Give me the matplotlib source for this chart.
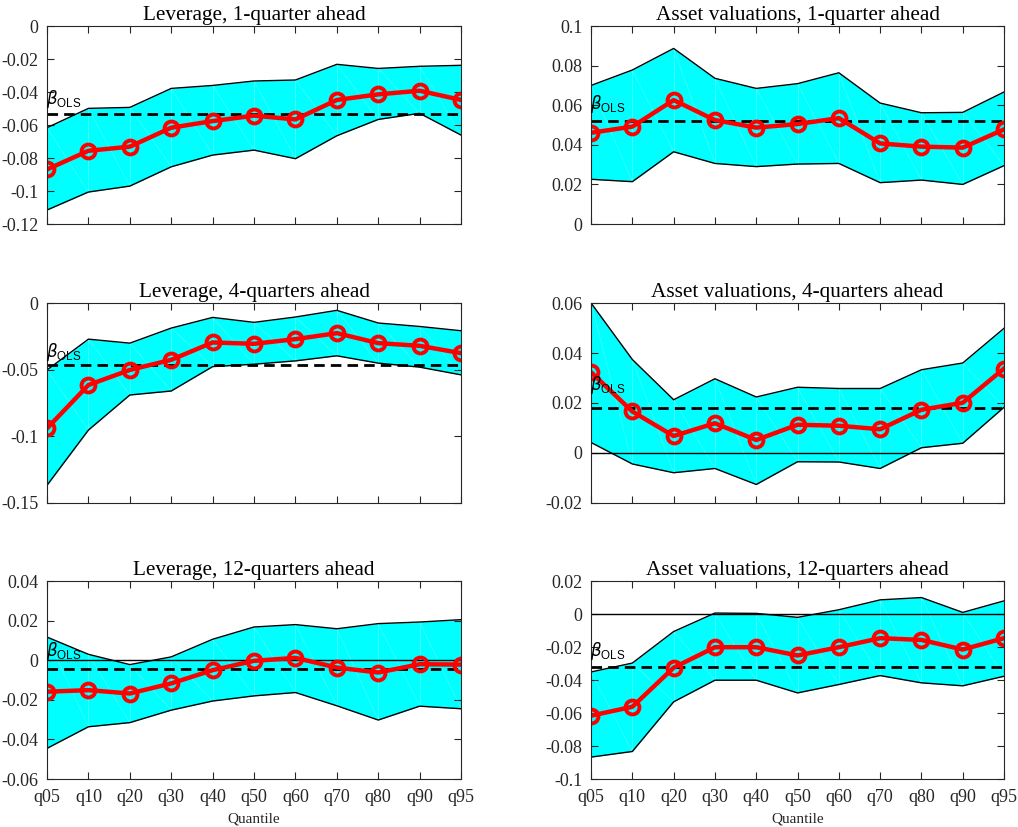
import numpy as np
import matplotlib
matplotlib.use('Agg')
import matplotlib.pyplot as plt

plt.rcParams['font.family'] = ['Liberation Serif', 'DejaVu Serif']
plt.rcParams['mathtext.fontset'] = 'custom'
plt.rcParams['mathtext.rm'] = 'Liberation Sans'
plt.rcParams['mathtext.it'] = 'DejaVu Sans:italic'

quantiles = ['q05', 'q10', 'q20', 'q30', 'q40', 'q50', 'q60', 'q70', 'q80', 'q90', 'q95']

# leverage, 1 quarter ahead
lev1_coef = [-0.0869, -0.0756, -0.0731, -0.0616, -0.0576, -0.0543, -0.0566, -0.0448, -0.0414, -0.0392, -0.0448]
lev1_upper = [-0.0616, -0.0499, -0.0493, -0.0378, -0.0360, -0.0333, -0.0327, -0.0232, -0.0257, -0.0244, -0.0238]
lev1_lower = [-0.1115, -0.1006, -0.0970, -0.0853, -0.0782, -0.0752, -0.0804, -0.0665, -0.0566, -0.0529, -0.0661]
lev1_ols = -0.0533

# asset valuations, 1 quarter ahead
val1_coef = [0.0461, 0.0492, 0.0626, 0.0525, 0.0487, 0.0505, 0.0535, 0.0407, 0.0391, 0.0386, 0.0478]
val1_upper = [0.0700, 0.0778, 0.0887, 0.0736, 0.0685, 0.0709, 0.0764, 0.0611, 0.0562, 0.0564, 0.0667]
val1_lower = [0.0226, 0.0214, 0.0365, 0.0306, 0.0290, 0.0303, 0.0306, 0.0209, 0.0222, 0.0200, 0.0295]
val1_ols = 0.0520

# leverage, 4 quarters ahead
lev4_coef = [-0.0940, -0.0615, -0.0502, -0.0426, -0.0296, -0.0306, -0.0271, -0.0226, -0.0301, -0.0321, -0.0376]
lev4_upper = [-0.0502, -0.0271, -0.0301, -0.0188, -0.0108, -0.0145, -0.0105, -0.0055, -0.0150, -0.0176, -0.0208]
lev4_lower = [-0.1367, -0.0953, -0.0690, -0.0660, -0.0477, -0.0459, -0.0434, -0.0396, -0.0451, -0.0481, -0.0539]
lev4_ols = -0.0464

# asset valuations, 4 quarters ahead
val4_coef = [0.0323, 0.0166, 0.0068, 0.0119, 0.0052, 0.0113, 0.0109, 0.0095, 0.0173, 0.0201, 0.0338]
val4_upper = [0.0600, 0.0374, 0.0213, 0.0297, 0.0224, 0.0263, 0.0258, 0.0258, 0.0333, 0.0360, 0.0499]
val4_lower = [0.0042, -0.0044, -0.0079, -0.0062, -0.0126, -0.0035, -0.0036, -0.0062, 0.0021, 0.0039, 0.0183]
val4_ols = 0.0179

# leverage, 12 quarters ahead
lev12_coef = [-0.0159, -0.0151, -0.0168, -0.0117, -0.0050, -0.0003, 0.0012, -0.0037, -0.0062, -0.0020, -0.0022]
lev12_upper = [0.0117, 0.0030, -0.0022, 0.0017, 0.0106, 0.0168, 0.0180, 0.0159, 0.0185, 0.0193, 0.0205]
lev12_lower = [-0.0445, -0.0336, -0.0315, -0.0252, -0.0206, -0.0180, -0.0163, -0.0230, -0.0302, -0.0232, -0.0245]
lev12_ols = -0.0045

# asset valuations, 12 quarters ahead
val12_coef = [-0.0616, -0.0562, -0.0325, -0.0201, -0.0201, -0.0251, -0.0201, -0.0146, -0.0157, -0.0215, -0.0146]
val12_upper = [-0.0351, -0.0297, -0.0106, 0.0006, 0.0004, -0.0020, 0.0026, 0.0086, 0.0100, 0.0010, 0.0080]
val12_lower = [-0.0867, -0.0833, -0.0532, -0.0401, -0.0401, -0.0478, -0.0427, -0.0373, -0.0417, -0.0435, -0.0377]
val12_ols = -0.0321

# title, coefficients, band, OLS estimate, y-limits, y-ticks, label height, zero line
panels = [
    ('Leverage, 1-quarter ahead', lev1_coef, lev1_upper, lev1_lower, lev1_ols,
     (-0.12, 0), np.arange(-0.12, 0.001, 0.02), -0.0444, False),
    ('Asset valuations, 1-quarter ahead', val1_coef, val1_upper, val1_lower, val1_ols,
     (0, 0.1), np.arange(0, 0.101, 0.02), 0.0606, False),
    ('Leverage, 4-quarters ahead', lev4_coef, lev4_upper, lev4_lower, lev4_ols,
     (-0.15, 0), np.arange(-0.15, 0.001, 0.05), -0.0371, False),
    ('Asset valuations, 4-quarters ahead', val4_coef, val4_upper, val4_lower, val4_ols,
     (-0.02, 0.06), np.arange(-0.02, 0.061, 0.02), 0.0272, True),
    ('Leverage, 12-quarters ahead', lev12_coef, lev12_upper, lev12_lower, lev12_ols,
     (-0.06, 0.04), np.arange(-0.06, 0.041, 0.02), 0.0045, True),
    ('Asset valuations, 12-quarters ahead', val12_coef, val12_upper, val12_lower, val12_ols,
     (-0.1, 0.02), np.arange(-0.1, 0.021, 0.02), -0.0227, True),
]

fig = plt.figure(figsize=(10.18, 8.27), dpi=100)
lefts = [0.0462, 0.5806]
widths = [0.4067, 0.4057]
bottoms = [0.7291, 0.3918, 0.0580]
heights = [0.2394, 0.2418, 0.2394]

x = np.arange(len(quantiles))
for i, (title, coef, upper, lower, ols, ylim, yticks, label_y, zero_line) in enumerate(panels):
    row, col = divmod(i, 2)
    ax = fig.add_axes([lefts[col], bottoms[row], widths[col], heights[row]])

    ax.fill_between(x, lower, upper, color='cyan', linewidth=0)
    # faint seams of the patch triangulation
    for k in range(len(x)):
        ax.plot([x[k], x[k]], [lower[k], upper[k]], color='white', lw=0.5, alpha=0.35)
        if k < len(x) - 1:
            ax.plot([x[k], x[k + 1]], [upper[k], lower[k + 1]], color='white', lw=0.5, alpha=0.25)
    ax.plot(x, upper, color='black', lw=1.0)
    ax.plot(x, lower, color='black', lw=1.0)

    if zero_line:
        ax.axhline(0, color='black', lw=1.0)
    ax.axhline(ols, color='black', lw=2.0, ls=(0, (3.8, 2.2)))
    ax.plot(x, coef, color='red', lw=3.2, marker='o', ms=10, mfc='none', mec='red', mew=2.8)

    ax.text(-0.02, label_y, r'$\beta_{\rm OLS}$', fontsize=12, va='center', ha='left')

    ax.set_xlim(0, len(x) - 1)
    ax.set_ylim(*ylim)
    ax.set_yticks(yticks)
    ax.set_yticklabels(['%g' % round(v, 3) for v in yticks])
    ax.set_xticks(x)
    if row == 2:
        ax.set_xticklabels(quantiles)
        ax.set_xlabel('Quantile', fontsize=11, labelpad=5, color='#262626')
    else:
        ax.set_xticklabels([])
    ax.tick_params(direction='in', top=True, right=True, length=5, width=0.8,
                   labelsize=13, color='#262626', labelcolor='#262626')
    ax.tick_params(axis='y', pad=6)
    ax.tick_params(axis='x', pad=7)
    for sp in ax.spines.values():
        sp.set_color('#262626')
        sp.set_linewidth(0.8)
    ax.set_title(title, fontsize=15.3, pad=4)

fig.savefig('out.png', dpi=100)
